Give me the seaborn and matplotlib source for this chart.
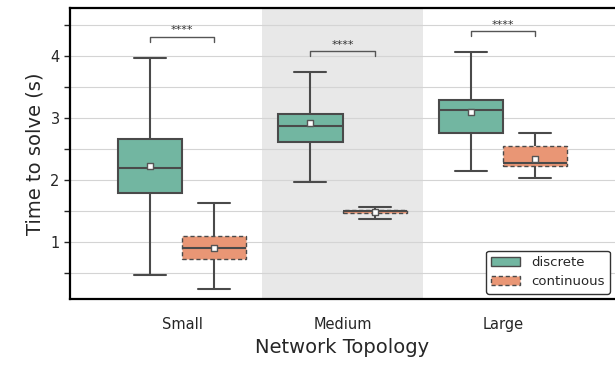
"""
求解时间箱线图 — 离散 vs 连续，按网络拓扑分组
"""

import pandas as pd
import numpy as np
import matplotlib
matplotlib.use('Agg')
import matplotlib.pyplot as plt
from matplotlib.patches import Patch
from matplotlib.ticker import MultipleLocator
import seaborn as sns

# ======================== 数据 ========================
TOPOLOGIES = ['Small', 'Medium', 'Large']
METHODS = ['discrete', 'continuous']

# discrete
disc_lo = [0.47, 1.97, 2.15]
disc_q1 = [1.79, 2.61, 2.76]
disc_med = [2.19, 2.87, 3.13]
disc_q3 = [2.66, 3.06, 3.29]
disc_hi = [3.97, 3.74, 4.06]
disc_mean = [2.23, 2.92, 3.10]

# continuous
cont_lo = [0.24, 1.37, 2.03]
cont_q1 = [0.73, 1.47, 2.23]
cont_med = [0.90, 1.50, 2.27]
cont_q3 = [1.10, 1.52, 2.55]
cont_hi = [1.63, 1.56, 2.76]
cont_mean = [0.90, 1.48, 2.34]

SIG_LABELS = ['****', '****', '****']

# ---- 组装长表：每组五数概括 ----
rows = []
summ = {
    'discrete': (disc_lo, disc_q1, disc_med, disc_q3, disc_hi),
    'continuous': (cont_lo, cont_q1, cont_med, cont_q3, cont_hi),
}
for m in METHODS:
    for i, t in enumerate(TOPOLOGIES):
        for arr in summ[m]:
            rows.append({'Topology': t, 'Method': m, 'Time': arr[i]})
df = pd.DataFrame(rows)
means = {'discrete': disc_mean, 'continuous': cont_mean}

# ======================== 绘图 ========================
sns.set_style('ticks')
plt.rcParams['font.family'] = ['DejaVu Sans']

palette = sns.color_palette('Set2', 2)
LINE_C = '#4a4a4a'

fig = plt.figure(figsize=(6.15, 3.68), dpi=100)
ax = fig.add_axes([70 / 615, 1 - 299 / 368, 1 - 70 / 615, 291 / 368])

ax.axvspan(0.5, 1.5, color='#e8e8e8', zorder=0, lw=0)

sns.boxplot(data=df, x='Topology', y='Time', hue='Method',
            order=TOPOLOGIES, hue_order=METHODS, palette=palette,
            whis=(0, 100), width=0.8, linewidth=1.5, linecolor=LINE_C,
            showfliers=False, ax=ax, legend=False, zorder=3)

# 连续方法的箱体用虚线边框
cont_rgb = np.array(sns.desaturate(palette[1], 0.75))
for p in ax.patches:
    fc = np.array(p.get_facecolor()[:3])
    if np.allclose(fc, cont_rgb, atol=0.02):
        p.set_linestyle((0, (3, 2)))
        p.set_linewidth(1.0)

# 均值点
offsets = {'discrete': -0.2, 'continuous': 0.2}
for m in METHODS:
    xs = np.arange(len(TOPOLOGIES)) + offsets[m]
    ax.scatter(xs, means[m], marker='s', s=22, facecolor='white',
               edgecolor='#555555', linewidth=1.0, zorder=5)

# 显著性标注
for i, lab in enumerate(SIG_LABELS):
    y = max(disc_hi[i], cont_hi[i]) + 0.34
    x1, x2 = i - 0.2, i + 0.2
    ax.plot([x1, x1, x2, x2], [y - 0.08, y, y, y - 0.08],
            color='#555555', lw=1.0, zorder=4)
    ax.text(i, y + 0.02, lab, ha='center', va='bottom',
            fontsize=8, color='#333333')

# 坐标轴
ax.set_xlim(-0.7, 2.7)
ax.set_ylim(0.08, 4.77)
ax.yaxis.set_major_locator(MultipleLocator(1))
ax.yaxis.set_minor_locator(MultipleLocator(0.5))
ax.grid(axis='y', which='both', color='#d4d4d4', lw=0.8, zorder=1)
ax.set_axisbelow(True)
ax.tick_params(axis='y', which='both', length=4, width=1, labelsize=10.5)
ax.tick_params(axis='x', length=0, pad=13, labelsize=10.5)
ax.set_ylabel('Time to solve (s)', fontsize=14)
ax.set_xlabel('Network Topology', fontsize=14, labelpad=4)
for s in ['left', 'top', 'bottom']:
    ax.spines[s].set_linewidth(1.6)
    ax.spines[s].set_color('black')
ax.spines['right'].set_visible(False)

handles = [
    Patch(facecolor=sns.desaturate(palette[0], 0.75), edgecolor=LINE_C, lw=1.0),
    Patch(facecolor=sns.desaturate(palette[1], 0.75), edgecolor=LINE_C, lw=1.0,
          linestyle=(0, (3, 2))),
]
ax.legend(handles, METHODS, loc='lower right', fontsize=9.5,
          frameon=True, edgecolor='#333333', framealpha=1,
          borderaxespad=0.4, handlelength=2.2)

plt.savefig('out.png', dpi=100)
plt.close()
